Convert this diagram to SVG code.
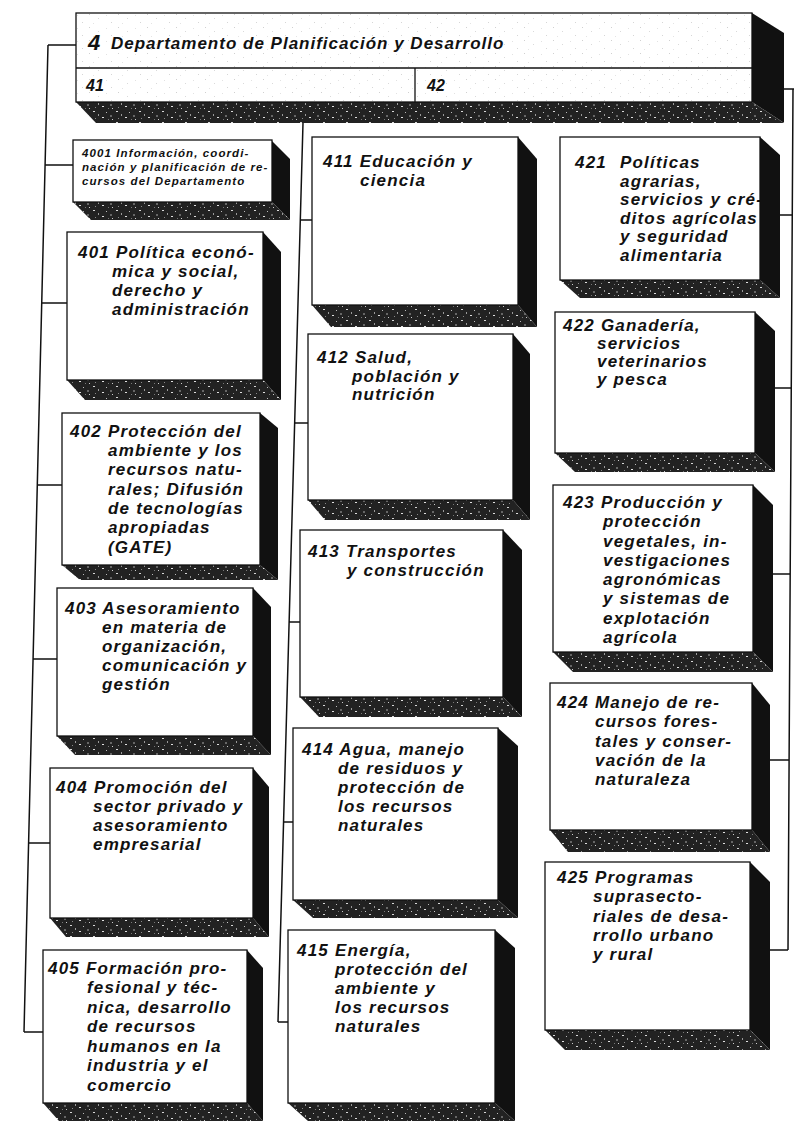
<svg xmlns="http://www.w3.org/2000/svg" width="796" height="1122" viewBox="0 0 796 1122">
<defs>
<pattern id="speck" width="23" height="11" patternUnits="userSpaceOnUse">
<rect width="23" height="11" fill="#222"/>
<rect x="1" y="1" width="2" height="1" fill="#d8d8d8"/>
<rect x="6" y="4" width="1" height="2" fill="#9a9a9a"/>
<rect x="10" y="7" width="2" height="1" fill="#e0e0e0"/>
<rect x="3" y="8" width="1" height="1" fill="#888"/>
<rect x="14" y="2" width="1" height="1" fill="#bbb"/>
<rect x="18" y="5" width="2" height="2" fill="#666"/>
<rect x="20" y="9" width="1" height="1" fill="#ccc"/>
<rect x="16" y="9" width="1" height="1" fill="#777"/>
</pattern>
<pattern id="light" width="29" height="13" patternUnits="userSpaceOnUse">
<rect width="29" height="13" fill="#fff"/>
<rect x="2" y="1" width="1" height="1" fill="#d0d0d0"/>
<rect x="11" y="5" width="1" height="1" fill="#dadada"/>
<rect x="19" y="2" width="1" height="1" fill="#e2e2e2"/>
<rect x="24" y="9" width="1" height="1" fill="#d6d6d6"/>
<rect x="6" y="10" width="1" height="1" fill="#e4e4e4"/>
</pattern>
</defs>
<style>
.front{fill:#fff;stroke:#111;stroke-width:1.3}
.side{fill:#111}
.bot{fill:url(#speck)}
.t{font-family:"Liberation Sans",Arial,sans-serif;font-style:italic;font-weight:bold;font-size:17px;letter-spacing:1.2px;fill:#111}
.s{font-family:"Liberation Sans",Arial,sans-serif;font-style:italic;font-weight:bold;font-size:11.5px;letter-spacing:1.1px;fill:#111}
.h{font-family:"Liberation Sans",Arial,sans-serif;font-style:italic;font-weight:bold;fill:#111}
.c{fill:none;stroke:#111;stroke-width:1.5}
</style>
<rect width="796" height="1122" fill="#fff"/>

<g id="connectors">
<path class="c" d="M48,45 L24,1032 M48,45 H76 M45,165 H73 M42,303 H67 M37,485 H62 M33,659 H57 M29,843 H50 M24,1032 H43"/>
<path class="c" d="M303,123 L278,1022 M300,220 H312 M295,423 H308 M289,622 H300 M284,822 H293 M278,1022 H288"/>
<path class="c" d="M784,89 H794 M793,89 L788,950 M780,215 H792 M775,388 H791 M773,574 H790 M770,760 H789 M770,950 H788"/>
</g>

<g id="header">
<polygon class="side" points="752,13 784,33 784,123 752,102"/>
<polygon class="bot" points="76,102 752,102 784,123 96,123"/>
<rect x="76" y="13" width="676" height="89" fill="url(#light)" stroke="#111" stroke-width="1.3"/>
<line x1="76" y1="68" x2="752" y2="68" stroke="#111" stroke-width="1.3"/>
<line x1="415" y1="68" x2="415" y2="102" stroke="#111" stroke-width="1.3"/>
<text class="h" x="88" y="50" font-size="22">4</text>
<text class="h" x="111" y="49" font-size="17" letter-spacing="1">Departamento de Planificación y Desarrollo</text>
<text class="h" x="86" y="91" font-size="16">41</text>
<text class="h" x="427" y="91" font-size="16">42</text>
</g>

<g id="n4001">
<polygon class="side" points="272,141 290,159 290,220 272,202"/>
<polygon class="bot" points="73,202 272,202 290,220 91,220"/>
<rect class="front" x="73" y="140" width="199" height="62"/>
<text class="s"><tspan x="82" y="157">4001 Información, coordi-</tspan><tspan x="82" y="171">nación y planificación de re-</tspan><tspan x="82" y="185">cursos del Departamento</tspan></text>
</g>

<g id="n401">
<polygon class="side" points="263,232 281,252 281,400 263,380"/>
<polygon class="bot" points="67,380 263,380 281,400 85,400"/>
<rect class="front" x="67" y="232" width="196" height="148"/>
<text class="t"><tspan x="78" y="258">401 Política econó-</tspan><tspan x="112" y="277">mica y social,</tspan><tspan x="112" y="296">derecho y</tspan><tspan x="112" y="315">administración</tspan></text>
</g>

<g id="n402">
<polygon class="side" points="260,413 278,428 278,580 260,565"/>
<polygon class="bot" points="62,565 260,565 278,580 80,580"/>
<rect class="front" x="62" y="413" width="198" height="152"/>
<text class="t"><tspan x="70" y="437">402 Protección del</tspan><tspan x="108" y="456">ambiente y los</tspan><tspan x="108" y="475">recursos natu-</tspan><tspan x="108" y="495">rales; Difusión</tspan><tspan x="108" y="514">de tecnologías</tspan><tspan x="108" y="533">apropiadas</tspan><tspan x="108" y="553">(GATE)</tspan></text>
</g>

<g id="n403">
<polygon class="side" points="253,588 271,607 271,755 253,736"/>
<polygon class="bot" points="57,736 253,736 271,755 75,755"/>
<rect class="front" x="57" y="588" width="196" height="148"/>
<text class="t"><tspan x="65" y="614">403 Asesoramiento</tspan><tspan x="102" y="633">en materia de</tspan><tspan x="102" y="652">organización,</tspan><tspan x="102" y="671">comunicación y</tspan><tspan x="102" y="690">gestión</tspan></text>
</g>

<g id="n404">
<polygon class="side" points="253,768 269,787 269,937 253,918"/>
<polygon class="bot" points="50,918 253,918 269,937 66,937"/>
<rect class="front" x="50" y="768" width="203" height="150"/>
<text class="t"><tspan x="56" y="793">404 Promoción del</tspan><tspan x="93" y="812">sector privado y</tspan><tspan x="93" y="831">asesoramiento</tspan><tspan x="93" y="850">empresarial</tspan></text>
</g>

<g id="n405">
<polygon class="side" points="247,950 263,968 263,1121 247,1103"/>
<polygon class="bot" points="43,1103 247,1103 263,1121 59,1121"/>
<rect class="front" x="43" y="950" width="204" height="153"/>
<text class="t"><tspan x="48" y="974">405 Formación pro-</tspan><tspan x="87" y="993">fesional y téc-</tspan><tspan x="87" y="1013">nica, desarrollo</tspan><tspan x="87" y="1032">de recursos</tspan><tspan x="87" y="1052">humanos en la</tspan><tspan x="87" y="1071">industria y el</tspan><tspan x="87" y="1091">comercio</tspan></text>
</g>

<g id="n411">
<polygon class="side" points="518,137 537,159 537,327 518,305"/>
<polygon class="bot" points="312,305 518,305 537,327 331,327"/>
<rect class="front" x="312" y="137" width="206" height="168"/>
<text class="t"><tspan x="323" y="167">411 Educación y</tspan><tspan x="360" y="186">ciencia</tspan></text>
</g>

<g id="n412">
<polygon class="side" points="513,334 530,354 530,520 513,500"/>
<polygon class="bot" points="308,500 513,500 530,520 325,520"/>
<rect class="front" x="308" y="334" width="205" height="166"/>
<text class="t"><tspan x="317" y="363">412 Salud,</tspan><tspan x="352" y="382">población y</tspan><tspan x="352" y="400">nutrición</tspan></text>
</g>

<g id="n413">
<polygon class="side" points="503,530 522,550 522,717 503,697"/>
<polygon class="bot" points="300,697 503,697 522,717 319,717"/>
<rect class="front" x="300" y="530" width="203" height="167"/>
<text class="t"><tspan x="308" y="557">413 Transportes</tspan><tspan x="347" y="576">y construcción</tspan></text>
</g>

<g id="n414">
<polygon class="side" points="498,728 518,746 518,918 498,900"/>
<polygon class="bot" points="293,900 498,900 518,918 313,918"/>
<rect class="front" x="293" y="728" width="205" height="172"/>
<text class="t"><tspan x="302" y="755">414 Agua, manejo</tspan><tspan x="338" y="774">de residuos y</tspan><tspan x="338" y="793">protección de</tspan><tspan x="338" y="812">los recursos</tspan><tspan x="338" y="831">naturales</tspan></text>
</g>

<g id="n415">
<polygon class="side" points="495,930 515,948 515,1121 495,1103"/>
<polygon class="bot" points="288,1103 495,1103 515,1121 308,1121"/>
<rect class="front" x="288" y="930" width="207" height="173"/>
<text class="t"><tspan x="297" y="956">415 Energía,</tspan><tspan x="335" y="975">protección del</tspan><tspan x="335" y="994">ambiente y</tspan><tspan x="335" y="1013">los recursos</tspan><tspan x="335" y="1032">naturales</tspan></text>
</g>

<g id="n421">
<polygon class="side" points="760,137 780,155 780,298 760,280"/>
<polygon class="bot" points="560,280 760,280 780,298 580,298"/>
<rect class="front" x="560" y="137" width="200" height="143"/>
<text class="t"><tspan x="575" y="168">421</tspan><tspan x="620" y="168">Políticas</tspan><tspan x="620" y="187">agrarias,</tspan><tspan x="620" y="205">servicios y cré-</tspan><tspan x="620" y="224">ditos agrícolas</tspan><tspan x="620" y="242">y seguridad</tspan><tspan x="620" y="261">alimentaria</tspan></text>
</g>

<g id="n422">
<polygon class="side" points="755,312 775,331 775,472 755,453"/>
<polygon class="bot" points="555,453 755,453 775,472 575,472"/>
<rect class="front" x="555" y="312" width="200" height="141"/>
<text class="t"><tspan x="563" y="331">422 Ganadería,</tspan><tspan x="597" y="349">servicios</tspan><tspan x="597" y="367">veterinarios</tspan><tspan x="597" y="385">y pesca</tspan></text>
</g>

<g id="n423">
<polygon class="side" points="753,485 773,505 773,672 753,652"/>
<polygon class="bot" points="553,652 753,652 773,672 573,672"/>
<rect class="front" x="553" y="485" width="200" height="167"/>
<text class="t"><tspan x="563" y="508">423 Producción y</tspan><tspan x="603" y="527">protección</tspan><tspan x="603" y="547">vegetales, in-</tspan><tspan x="603" y="566">vestigaciones</tspan><tspan x="603" y="585">agronómicas</tspan><tspan x="603" y="604">y sistemas de</tspan><tspan x="603" y="624">explotación</tspan><tspan x="603" y="643">agrícola</tspan></text>
</g>

<g id="n424">
<polygon class="side" points="752,683 770,705 770,852 752,830"/>
<polygon class="bot" points="550,830 752,830 770,852 568,852"/>
<rect class="front" x="550" y="683" width="202" height="147"/>
<text class="t"><tspan x="557" y="708">424 Manejo de re-</tspan><tspan x="595" y="727">cursos fores-</tspan><tspan x="595" y="747">tales y conser-</tspan><tspan x="595" y="766">vación de la</tspan><tspan x="595" y="785">naturaleza</tspan></text>
</g>

<g id="n425">
<polygon class="side" points="750,862 770,882 770,1050 750,1030"/>
<polygon class="bot" points="545,1030 750,1030 770,1050 565,1050"/>
<rect class="front" x="545" y="862" width="205" height="168"/>
<text class="t"><tspan x="557" y="883">425 Programas</tspan><tspan x="593" y="902">suprasecto-</tspan><tspan x="593" y="922">riales de desa-</tspan><tspan x="593" y="941">rrollo urbano</tspan><tspan x="593" y="960">y rural</tspan></text>
</g>
</svg>
